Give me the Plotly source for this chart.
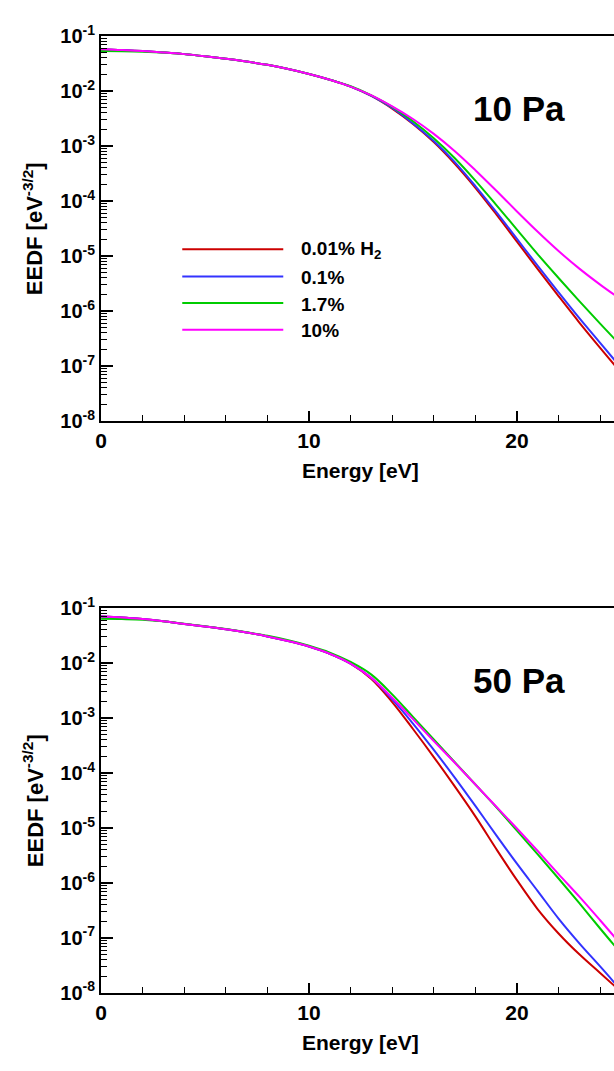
import plotly.graph_objects as go

# ---------------- data (EEDF, stored as log10 values) ----------------
energy = list(range(0, 26))  # eV

# 10 Pa
log_eedf10_001 = [-1.24, -1.255, -1.275, -1.30, -1.33, -1.37, -1.415, -1.465, -1.525, -1.60, -1.69, -1.795, -1.92,
                  -2.09, -2.32, -2.60, -2.93, -3.32, -3.76, -4.24, -4.74, -5.24, -5.73, -6.21, -6.67, -7.12]
log_eedf10_01 = [-1.24, -1.255, -1.275, -1.30, -1.33, -1.37, -1.415, -1.465, -1.525, -1.60, -1.69, -1.795, -1.92,
                 -2.09, -2.31, -2.59, -2.91, -3.29, -3.73, -4.20, -4.69, -5.18, -5.66, -6.13, -6.58, -7.03]
log_eedf10_17 = [-1.275, -1.278, -1.285, -1.30, -1.33, -1.37, -1.415, -1.465, -1.525, -1.60, -1.69, -1.795, -1.915,
                 -2.08, -2.29, -2.55, -2.86, -3.22, -3.63, -4.07, -4.52, -4.97, -5.40, -5.82, -6.23, -6.63]
log_eedf10_10 = [-1.24, -1.255, -1.275, -1.30, -1.33, -1.37, -1.415, -1.465, -1.525, -1.60, -1.69, -1.795, -1.92,
                 -2.08, -2.28, -2.51, -2.78, -3.09, -3.44, -3.81, -4.19, -4.56, -4.91, -5.23, -5.52, -5.79]

# 50 Pa
log_eedf50_001 = [-1.154, -1.17, -1.20, -1.24, -1.29, -1.335, -1.385, -1.445, -1.515, -1.60, -1.70, -1.83, -2.01,
                  -2.29, -2.71, -3.20, -3.71, -4.24, -4.79, -5.38, -5.95, -6.48, -6.92, -7.30, -7.64, -7.98]
log_eedf50_01 = [-1.154, -1.17, -1.20, -1.24, -1.29, -1.335, -1.385, -1.445, -1.515, -1.60, -1.70, -1.83, -2.01,
                 -2.27, -2.66, -3.10, -3.58, -4.08, -4.60, -5.13, -5.65, -6.15, -6.65, -7.10, -7.52, -7.95]
log_eedf50_17 = [-1.196, -1.20, -1.21, -1.24, -1.285, -1.33, -1.38, -1.44, -1.505, -1.585, -1.685, -1.81, -1.98,
                 -2.21, -2.57, -2.98, -3.39, -3.80, -4.21, -4.62, -5.05, -5.48, -5.92, -6.37, -6.83, -7.28]
log_eedf50_10 = [-1.154, -1.17, -1.20, -1.24, -1.29, -1.335, -1.385, -1.445, -1.515, -1.60, -1.70, -1.83, -2.01,
                 -2.27, -2.63, -3.02, -3.42, -3.81, -4.21, -4.61, -5.01, -5.42, -5.84, -6.25, -6.68, -7.12]

series_labels = ["0.01% H<sub>2</sub>", "0.1%", "1.7%", "10%"]
series_colors = ["#cc0000", "#3333ff", "#00cc00", "#ff00ff"]
panel_labels = ["10 Pa", "50 Pa"]
x_ticks = [0, 10, 20]
y_exponents = [-8, -7, -6, -5, -4, -3, -2, -1]

# ---------------- figure ----------------
W, H = 614, 1071
FONT = "Liberation Sans"

fig = go.Figure()

panels = [
    ("x", "y", [log_eedf10_001, log_eedf10_01, log_eedf10_17, log_eedf10_10]),
    ("x2", "y2", [log_eedf50_001, log_eedf50_01, log_eedf50_17, log_eedf50_10]),
]
for xa, ya, ser in panels:
    for logs, col, lab in zip(ser, series_colors, series_labels):
        vals = [10.0 ** v for v in logs]
        fig.add_trace(go.Scatter(x=energy, y=vals, mode="lines", xaxis=xa, yaxis=ya,
                                 line=dict(color=col, width=2, shape="spline", smoothing=1.0),
                                 name=lab, showlegend=False, hoverinfo="skip"))


def px_y(p):
    return 1 - p / H


def px_x(p):
    return p / W


AX_LEFT = 96          # px of energy 0
PX_PER_EV = 21.0
x_end = (W - AX_LEFT) / PX_PER_EV

top_dom = [px_y(416.7), px_y(22.5)]
bot_dom = [px_y(1002.2), px_y(608.3)]
x_dom = [px_x(AX_LEFT), 1.0]

minor_vals = [m * 10.0 ** e for e in range(-8, -1) for m in range(2, 10)]
ytickvals = [10.0 ** e for e in y_exponents]
yticktext = ["10<sup>%d</sup>" % e for e in y_exponents]


def xaxis_cfg(anchor):
    return dict(domain=x_dom, range=[0, x_end], anchor=anchor,
                showline=True, linewidth=2, linecolor="black", mirror=True,
                showgrid=False, zeroline=False,
                tickvals=x_ticks, ticktext=[str(v) for v in x_ticks],
                ticks="inside", ticklen=10, tickwidth=2, tickcolor="black",
                minor=dict(dtick=2, ticks="inside", ticklen=6, tickwidth=1, tickcolor="black", showgrid=False),
                tickfont=dict(family=FONT, size=21, color="black", weight="bold"))


def yaxis_cfg(dom, anchor):
    return dict(domain=dom, type="log", range=[-8, -1], anchor=anchor,
                showline=True, linewidth=2, linecolor="black", mirror=False,
                showgrid=False, zeroline=False,
                tickvals=ytickvals, ticktext=yticktext,
                ticks="inside", ticklen=12, tickwidth=2, tickcolor="black",
                minor=dict(tickvals=minor_vals, ticks="inside", ticklen=6, tickwidth=1, tickcolor="black",
                           showgrid=False),
                tickfont=dict(family=FONT, size=20, color="black", weight="bold"))


fig.update_layout(
    width=W, height=H,
    margin=dict(l=0, r=0, t=0, b=0),
    paper_bgcolor="white", plot_bgcolor="white",
    hovermode=False,
    xaxis=xaxis_cfg("y"), yaxis=yaxis_cfg(top_dom, "x"),
    xaxis2=xaxis_cfg("y2"), yaxis2=yaxis_cfg(bot_dom, "x2"),
)

ann = []
title_font = dict(family=FONT, size=21, color="black", weight="bold")
ytitle_font = dict(family=FONT, size=22, color="black", weight="bold")
for xr, dom, lab, ylab in [("x", top_dom, panel_labels[0], 96.7), ("x2", bot_dom, panel_labels[1], 682.5)]:
    ann.append(dict(text="Energy [eV]", xref=xr, x=12.5, yref="paper", y=dom[0] - 51 / H,
                    showarrow=False, font=title_font, xanchor="center", yanchor="middle"))
    ann.append(dict(text="EEDF [eV<sup>-3/2</sup>]", xref="paper", x=px_x(28), yref="paper",
                    y=(dom[0] + dom[1]) / 2, textangle=-90, showarrow=False, font=ytitle_font,
                    xanchor="center", yanchor="middle"))
    ann.append(dict(text=lab, xref=xr, x=20.1, yref="paper", y=px_y(ylab), showarrow=False,
                    font=dict(family=FONT, size=35, color="black", weight="bold"),
                    xanchor="center", yanchor="middle"))

# legend (top panel only)
leg_rows = [241, 268.7, 296, 323.3]
shapes = []
for lab, col, yy in zip(series_labels, series_colors, leg_rows):
    shapes.append(dict(type="line", xref="paper", yref="paper", x0=px_x(178), x1=px_x(280),
                       y0=px_y(yy), y1=px_y(yy), line=dict(color=col, width=2)))
    ann.append(dict(text=lab, xref="paper", x=px_x(296), yref="paper", y=px_y(yy + 1), showarrow=False,
                    font=dict(family=FONT, size=19, color="black", weight="bold"),
                    xanchor="left", yanchor="middle"))

fig.update_layout(annotations=ann, shapes=shapes)
# place the figure at the page origin (remove the browser's default body margin), no mode bar
fig.write_html("out.html", config={"displayModeBar": False},
               post_script="document.body.style.margin='0px';")
